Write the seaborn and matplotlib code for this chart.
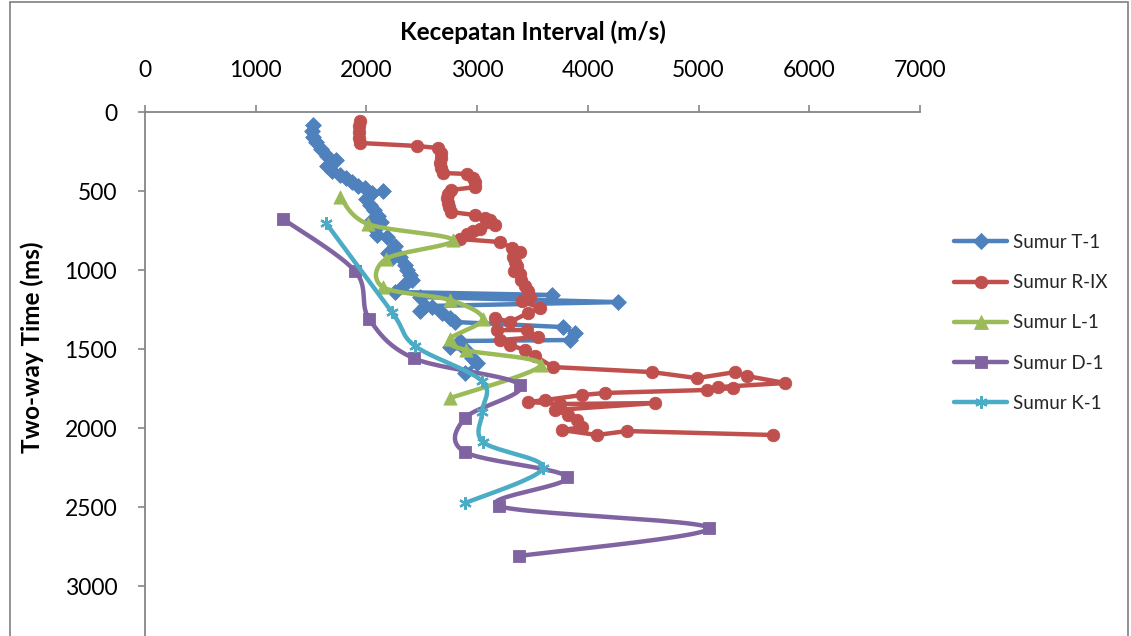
import numpy as np
import matplotlib
matplotlib.use("Agg")
import matplotlib.pyplot as plt
from matplotlib.lines import Line2D
from matplotlib.patches import Rectangle
import seaborn as sns

# Interval velocity (m/s) against two-way time (ms) for each well
t1_vel = [1518, 1509, 1518, 1545, 1590, 1644, 1725, 1644, 1689, 1761, 1816, 1870, 1924, 1987, 2050,
          2150, 1996, 2032, 2069, 2105, 2050, 2132, 2078, 2096, 2186, 2258, 2195, 2231, 2303, 2349,
          2367, 2394, 2412, 2340, 2258, 3676, 2484, 4273, 2529, 2484, 2592, 2683, 2755, 2800, 3776,
          3884, 3839, 2845, 2755, 2900, 2954, 2999, 2891]
t1_twt = [82, 120, 158, 190, 234, 278, 304, 342, 373, 399, 418, 443, 468, 481, 513,
          500, 551, 589, 620, 658, 684, 696, 741, 778, 791, 848, 892, 924, 918, 968,
          1000, 1032, 1063, 1095, 1139, 1158, 1171, 1203, 1228, 1259, 1234, 1272, 1304, 1329, 1361,
          1399, 1443, 1449, 1487, 1506, 1557, 1589, 1652]

rix_vel = [1942, 1933, 1933, 1933, 1942, 2457, 2647, 2674, 2674, 2665, 2674, 2692, 2909, 2963, 2981,
           2981, 2764, 2737, 2728, 2737, 2746, 2764, 2981, 3071, 3116, 3162, 3026, 2963, 2909, 2845,
           3207, 3315, 3387, 3324, 3342, 3360, 3333, 3387, 3396, 3433, 3460, 3478, 3405, 3568, 3460,
           3297, 3162, 3180, 3451, 3550, 3207, 3297, 3433, 3523, 3686, 4580, 4986, 5329, 5438, 5781,
           5176, 5311, 5077, 4155, 3947, 3613, 3460, 3749, 4607, 3704, 3821, 3902, 3947, 3767, 4083,
           4354, 5673]
rix_twt = [57, 89, 127, 165, 196, 215, 228, 259, 291, 323, 354, 386, 392, 418, 443,
           475, 494, 519, 544, 576, 601, 633, 652, 671, 684, 715, 741, 753, 772, 804,
           823, 861, 886, 918, 949, 975, 1006, 1025, 1063, 1101, 1133, 1171, 1196, 1241, 1272,
           1329, 1304, 1380, 1380, 1424, 1443, 1475, 1506, 1544, 1614, 1646, 1684, 1646, 1671, 1715,
           1741, 1747, 1759, 1778, 1791, 1823, 1835, 1848, 1842, 1886, 1918, 1949, 1994, 2013, 2044,
           2019, 2044]

l1_vel = [1761, 2014, 2781, 2176, 2149, 2754, 3052, 2754, 2899, 3576, 2754]
l1_twt = [538, 709, 810, 930, 1108, 1190, 1310, 1437, 1507, 1601, 1810]

d1_vel = [1246, 1896, 2023, 2429, 3386, 2890, 2890, 3811, 3197, 5093, 3377]
d1_twt = [677, 1006, 1307, 1559, 1728, 1937, 2152, 2310, 2494, 2633, 2810]

k1_vel = [1635, 2230, 2440, 3045, 3045, 3055, 3595, 2890]
k1_twt = [703, 1266, 1481, 1703, 1899, 2089, 2253, 2475]

x_ticks = [0, 1000, 2000, 3000, 4000, 5000, 6000, 7000]
y_ticks = [0, 500, 1000, 1500, 2000, 2500, 3000]

sns.set_theme(style="white")
plt.rcParams['font.family'] = ['Lato', 'DejaVu Sans']

W, H = 1131, 636
fig = plt.figure(figsize=(W / 100, H / 100), dpi=100)
fig.patch.set_facecolor("white")
ax = fig.add_axes([145 / W, 0, 775 / W, 524 / H])
XLIM, YLIM = (0, 7000), (3316, 0)
ax.set_xlim(*XLIM)
ax.set_ylim(*YLIM)


def smooth_path(xs, ys, n=24):
    """Bezier smoothing through the points, computed in screen space."""
    pts = ax.transData.transform(np.column_stack([xs, ys]))
    p = np.vstack([pts[0], pts, pts[-1]])
    tt = np.linspace(0, 1, n, endpoint=False)[:, None]
    out = []
    for i in range(1, len(p) - 2):
        p0, p1, p2, p3 = p[i - 1], p[i], p[i + 1], p[i + 2]
        c1 = p1 + (p2 - p0) / 6
        c2 = p2 - (p3 - p1) / 6
        seg = ((1 - tt) ** 3) * p1 + 3 * ((1 - tt) ** 2) * tt * c1 \
            + 3 * (1 - tt) * tt ** 2 * c2 + tt ** 3 * p2
        out.append(seg)
    out.append(p[-2][None])
    curve = ax.transData.inverted().transform(np.vstack(out))
    return curve[:, 0], curve[:, 1]


series = [
    ("Sumur T-1", t1_vel, t1_twt, "#4F81BD", "D", 8.0, False),
    ("Sumur R-IX", rix_vel, rix_twt, "#C0504D", "o", 9.0, False),
    ("Sumur L-1", l1_vel, l1_twt, "#9BBB59", "^", 9.5, True),
    ("Sumur D-1", d1_vel, d1_twt, "#8064A2", "s", 8.0, True),
    ("Sumur K-1", k1_vel, k1_twt, "#4BACC6", (6, 2, 0), 9.0, True),
]

LW = 3.2
handles = []
for k, (name, vel, twt, col, mk, ms, smooth) in enumerate(series):
    z = 3 + 2 * k
    if smooth:
        sx, sy = smooth_path(vel, twt)
    else:
        sx, sy = np.asarray(vel, float), np.asarray(twt, float)
    sns.lineplot(x=sx, y=sy, sort=False, estimator=None, color=col, lw=LW,
                 solid_joinstyle="round", solid_capstyle="round", ax=ax, zorder=z)
    if isinstance(mk, tuple):
        ax.plot(vel, twt, linestyle="none", marker=mk, ms=ms, mec=col, mew=1.6, zorder=z + 1)
    else:
        sns.scatterplot(x=vel, y=twt, marker=mk, s=ms ** 2, color=col, edgecolor=col,
                        linewidth=0.6, ax=ax, zorder=z + 1)
    handles.append(Line2D([0], [0], color=col, lw=LW, marker=mk, ms=ms,
                          mfc=col, mec=col, mew=1.6 if isinstance(mk, tuple) else 0.6))

ax.set_xlim(*XLIM)
ax.set_ylim(*YLIM)
ax.set_xticks(x_ticks)
ax.set_yticks(y_ticks)

axis_col = "#868686"
for side in ("right", "bottom"):
    ax.spines[side].set_visible(False)
for side in ("top", "left"):
    ax.spines[side].set_color(axis_col)
    ax.spines[side].set_linewidth(1.3)
ax.xaxis.tick_top()
ax.tick_params(axis="x", which="both", top=True, bottom=False, direction="out",
               length=5, width=1.2, color=axis_col, pad=17, labelsize=16.5, labelcolor="black")
ax.tick_params(axis="y", which="both", left=True, direction="out",
               length=5, width=1.2, color=axis_col, pad=15, labelsize=16.5, labelcolor="black")

ax.set_xlabel("Kecepatan Interval (m/s)", fontsize=17.5, fontweight="bold", color="black")
ax.xaxis.set_label_position("top")
ax.xaxis.set_label_coords(0.5, (H - 32) / 524, transform=ax.transAxes)
ax.set_ylabel("Two-way Time (ms)", fontsize=17.5, fontweight="bold", color="black")
ax.yaxis.set_label_coords((32 - 145) / 775, (H - 347) / 524, transform=ax.transAxes)
ax.xaxis.label.set_va("center")
ax.yaxis.label.set_va("center")

fig.legend(handles=handles, labels=[s[0] for s in series], loc="upper left",
           bbox_to_anchor=(954 / W, 1 - 234 / H), frameon=False, fontsize=13.5,
           handlelength=2.85, handletextpad=0.27, labelspacing=1.24, borderpad=0,
           borderaxespad=0)

fig.add_artist(Rectangle((10 / W, -0.01), 1118 / W, 1.01 - 1.5 / H, transform=fig.transFigure,
                         fill=False, edgecolor="#7f7f7f", lw=1.2))

fig.savefig("out.png", dpi=100, facecolor="white")
